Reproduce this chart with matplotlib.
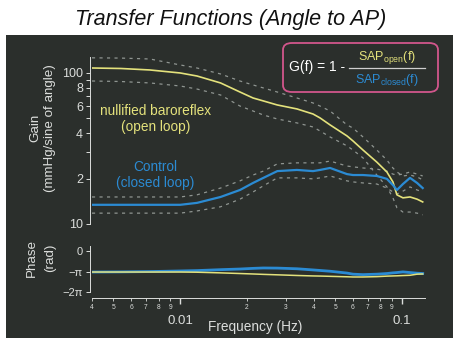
import matplotlib
matplotlib.use('Agg')
import matplotlib.pyplot as plt
import matplotlib.patches as mpatches
from matplotlib.ticker import FixedLocator, FixedFormatter
import numpy as np

plt.rcParams['font.family'] = ['Liberation Sans', 'DejaVu Sans']
plt.rcParams['mathtext.fontset'] = 'custom'
plt.rcParams['mathtext.rm'] = 'Liberation Sans'

# frequency grid (Hz)
freq = [0.0040, 0.0054, 0.0073, 0.0100, 0.0119, 0.0152, 0.0186, 0.0213, 0.0237,
        0.0274, 0.0336, 0.0397, 0.0427, 0.0474, 0.0565, 0.0601, 0.0667, 0.0770,
        0.0855, 0.0910, 0.0949, 0.1010, 0.1087, 0.1170, 0.1240]

# open loop (nullified baroreflex) gain and 95% band
gain_open = [107.9, 107.1, 104.7, 100.0, 95.5, 85.9, 74.8, 68.3, 65.3, 61.4, 57.8,
             53.5, 50.4, 45.3, 38.3, 35.5, 30.9, 25.7, 22.1, 19.0, 15.6, 14.9,
             15.1, 14.6, 14.0]
open_hi = [126.0, 125.5, 123.8, 113.0, 107.9, 98.5, 88.5, 83.3, 79.6, 74.8, 68.3,
           63.3, 60.4, 56.0, 45.3, 43.2, 37.7, 30.9, 26.5, 23.5, 22.1, 20.8,
           21.1, 20.5, 19.6]
open_lo = [88.5, 87.8, 85.9, 82.0, 78.3, 71.5, 60.4, 56.0, 52.7, 49.6, 46.7, 43.9,
           41.3, 37.7, 32.9, 30.9, 27.4, 21.1, 17.6, 14.9, 12.8, 12.0, 12.0,
           11.8, 11.5]

# closed loop (control) gain and 95% band
gain_closed = [13.4, 13.4, 13.4, 13.4, 13.8, 15.1, 16.8, 18.7, 20.2, 22.4, 22.8,
               22.4, 22.8, 23.5, 21.4, 21.1, 21.1, 20.8, 19.9, 18.1, 16.8, 18.4,
               20.2, 18.7, 17.3]
closed_hi = [15.1, 15.1, 15.1, 15.1, 15.6, 17.3, 19.3, 21.1, 22.4, 25.0, 25.4, 25.4,
             25.4, 26.1, 24.2, 23.9, 23.5, 23.1, 22.4, 21.4, 21.1, 21.4, 22.1,
             21.4, 20.8]
closed_lo = [11.8, 11.8, 11.8, 11.8, 12.2, 13.0, 14.6, 16.3, 17.9, 20.2, 20.2, 19.9,
             20.2, 20.8, 19.3, 19.0, 18.7, 18.4, 17.3, 16.3, 15.8, 16.5, 17.6,
             16.8, 16.3]

# phase (rad)
phase_open = [-3.22, -3.22, -3.22, -3.22, -3.25, -3.35, -3.45, -3.52, -3.58, -3.65,
              -3.75, -3.82, -3.84, -3.88, -3.95, -3.98, -3.98, -3.93, -3.85, -3.82,
              -3.80, -3.76, -3.72, -3.55, -3.52]
phase_closed = [-3.22, -3.20, -3.15, -3.06, -3.00, -2.86, -2.76, -2.66, -2.60, -2.62,
                -2.72, -2.90, -2.98, -3.10, -3.38, -3.55, -3.62, -3.55, -3.45, -3.35,
                -3.30, -3.20, -3.30, -3.40, -3.45]

gain_ticks = [10, 20, 30, 40, 50, 60, 70, 80, 90, 100]
gain_labels = ['10', '2', '', '4', '', '6', '', '8', '', '100']
freq_minor = [0.004, 0.005, 0.006, 0.007, 0.008, 0.009,
              0.02, 0.03, 0.04, 0.05, 0.06, 0.07, 0.08, 0.09]
freq_minor_labels = ['4', '5', '6', '7', '8', '9', '2', '3', '4', '5', '6', '7', '8', '9']

BG = '#2b2f2c'
FG = '#dcdedc'
YEL = '#e4e27c'
BLU = '#2b8bd3'
DASH = '#8f9591'

W, H = 453, 338
fig = plt.figure(figsize=(W / 100, H / 100), dpi=100)
fig.patch.set_facecolor('white')
fig.patches.append(mpatches.Rectangle((6 / W, 0), 1, 1 - 35 / H, transform=fig.transFigure,
                                      facecolor=BG, edgecolor='none', zorder=-5))
fig.text(231 / W, 1 - 19 / H, 'Transfer Functions (Angle to AP)', ha='center', va='center',
         fontsize=15.5, style='italic', color='#111111')

xl = (0.004, 0.127)

# gain panel
ax = fig.add_axes([92 / W, 1 - 224 / H, 333 / W, 167 / H])
ax.set_facecolor('none')
ax.set_xscale('log'); ax.set_yscale('log')
ax.set_xlim(*xl); ax.set_ylim(10, 127.6)
for lo, hi in [(open_lo, open_hi), (closed_lo, closed_hi)]:
    ax.plot(freq, hi, color=DASH, lw=0.9, ls=(0, (2.5, 3.5)))
    ax.plot(freq, lo, color=DASH, lw=0.9, ls=(0, (2.5, 3.5)))
ax.plot(freq, gain_open, color=YEL, lw=1.2)
ax.plot(freq, gain_closed, color=BLU, lw=1.6)
ax.yaxis.set_major_locator(FixedLocator(gain_ticks))
ax.yaxis.set_major_formatter(FixedFormatter(gain_labels))
ax.yaxis.set_minor_locator(FixedLocator([]))
ax.tick_params(axis='y', colors=FG, labelsize=9, length=3, width=0.7, pad=2)
ax.set_xticks([])
ax.xaxis.set_minor_locator(FixedLocator([]))
for s in ['top', 'right', 'bottom']:
    ax.spines[s].set_visible(False)
ax.spines['left'].set_color(FG); ax.spines['left'].set_linewidth(0.7)
ax.spines['left'].set_position(('outward', 1.5))

ax.text(0.19, 0.629, 'nullified baroreflex\n(open loop)', transform=ax.transAxes,
        ha='center', va='center', color=YEL, fontsize=9.8, linespacing=1.2)
ax.text(0.19, 0.293, 'Control\n(closed loop)', transform=ax.transAxes,
        ha='center', va='center', color=BLU, fontsize=9.8, linespacing=1.2)
fig.text(35 / W, 1 - 128 / H, 'Gain', rotation=90, ha='center', va='center',
         color=FG, fontsize=9.6)
fig.text(50 / W, 1 - 128 / H, '(mmHg/sine of angle)', rotation=90, ha='center',
         va='center', color=FG, fontsize=9.6)

# formula box
fig.patches.append(mpatches.FancyBboxPatch((283 / W, 1 - 92 / H), 155 / W, 49 / H,
                                           boxstyle='round,pad=0,rounding_size=0.02',
                                           transform=fig.transFigure, facecolor='none',
                                           edgecolor='#d2568c', lw=1.3))
fig.text(289 / W, 1 - 67 / H, 'G(f) = 1 -', ha='left', va='center', color='white',
         fontsize=10)
fig.lines.append(plt.Line2D([349 / W, 425 / W], [1 - 68 / H, 1 - 68 / H],
                            transform=fig.transFigure, color='#cfcfcf', lw=0.9))
fig.text(387 / W, 1 - 58 / H, r'$\mathrm{SAP}_{\mathrm{open}}\mathrm{(f)}$', ha='center',
         va='center', color=YEL, fontsize=9)
fig.text(387 / W, 1 - 80 / H, r'$\mathrm{SAP}_{\mathrm{closed}}\mathrm{(f)}$', ha='center',
         va='center', color=BLU, fontsize=9)

# phase panel
axp = fig.add_axes([92 / W, 1 - 292 / H, 333 / W, 46 / H])
axp.set_facecolor('none')
axp.set_xscale('log')
axp.set_xlim(*xl); axp.set_ylim(-2 * np.pi, 0.77)
axp.plot(freq, phase_closed, color=BLU, lw=2.0)
axp.plot(freq, phase_open, color=YEL, lw=1.1)
axp.set_yticks([0, -np.pi, -2 * np.pi])
axp.set_yticklabels(['0', '\u2212\u03c0', '\u22122\u03c0'])
axp.tick_params(axis='y', colors=FG, labelsize=8, length=3, width=0.7, pad=2)
axp.set_xticks([0.01, 0.1])
axp.set_xticklabels(['0.01', '0.1'])
axp.xaxis.set_minor_locator(FixedLocator(freq_minor))
axp.xaxis.set_minor_formatter(FixedFormatter(freq_minor_labels))
axp.tick_params(axis='x', which='major', colors=FG, labelsize=9.5, length=4, width=1.0, pad=8)
axp.tick_params(axis='x', which='minor', colors=FG, labelsize=4.8, length=2.5, width=0.6, pad=1.5)
for s in ['top', 'right']:
    axp.spines[s].set_visible(False)
for s in ['left', 'bottom']:
    axp.spines[s].set_color(FG); axp.spines[s].set_linewidth(0.7)
axp.spines['left'].set_position(('outward', 1.5))
axp.spines['bottom'].set_position(('outward', 4.5))
fig.text(255 / W, 1 - 327 / H, 'Frequency (Hz)', ha='center', va='center',
         color=FG, fontsize=9.8)
fig.text(32 / W, 1 - 258 / H, 'Phase', rotation=90, ha='center', va='center',
         color=FG, fontsize=9.6)
fig.text(50 / W, 1 - 258 / H, '(rad)', rotation=90, ha='center', va='center',
         color=FG, fontsize=9.6)

fig.savefig('out.png', dpi=100, facecolor=fig.get_facecolor())
